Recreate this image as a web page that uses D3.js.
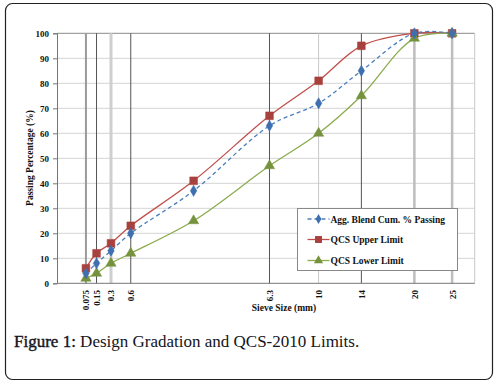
<!DOCTYPE html>
<html>
<head>
<meta charset="utf-8">
<script src="https://cdn.jsdelivr.net/npm/d3@7"></script>
<style>
body { margin: 0; background: #fff; }
text { font-family: "Liberation Serif", "Times New Roman", serif; }
</style>
</head>
<body>
<script>
window.onload = function(){

let width = 497,
	height = 383;

// sieve sizes (mm) and passing percentages
let sieves = [0.075, 0.15, 0.3, 0.6, 2.36, 6.3, 10, 14, 20, 25];
let blend = [4, 8, 13, 20, 37, 63, 72, 85, 100, 100];
let upper = [6, 12, 16, 23, 41, 67, 81, 95, 100, 100];
let lower = [2, 4, 8, 12, 25, 47, 60, 75, 98, 100];

let xTickLabels = ["0.075", "0.15", "0.3", "0.6", "6.3", "10", "14", "20", "25"];
let yTicks = [0, 10, 20, 30, 40, 50, 60, 70, 80, 90, 100];

let svg = d3.select("body").append("svg").attr("width", width).attr("height", height);

// outer frame
svg.append("rect")
	.attr("x", 5.5).attr("y", 3.5)
	.attr("width", 487).attr("height", 376)
	.attr("rx", 7)
	.attr("fill", "none")
	.attr("stroke", "#222")
	.attr("stroke-width", 1.2);

let x = d3.scalePow().exponent(0.45)
	.domain([0, Math.pow(4.5, 1 / 0.45)])
	.range([57, 474.7]);

let y = d3.scaleLinear()
	.domain([0, 100])
	.range([283.3, 33.3]);

let g = svg.append("g");

// horizontal grid
g.selectAll(".hgrid").data(yTicks.slice(1)).enter().append("line")
	.attr("x1", 57).attr("x2", 474.7)
	.attr("y1", d => y(d)).attr("y2", d => y(d))
	.attr("stroke", d => d == 100 ? "#8a8a8a" : "#d4d4d4")
	.attr("stroke-width", 1);

// vertical lines at sieve sizes
let vStyle = {
	"0.075": ["#9a9a9a", 2], "0.15": ["#555", 1], "0.3": ["#cfcfcf", 3], "0.6": ["#555", 1],
	"6.3": ["#555", 1], "10": ["#c8c8c8", 1], "14": ["#555", 1], "20": ["#bdbdbd", 2.5], "25": ["#bdbdbd", 2.5]
};
g.selectAll(".vgrid").data(xTickLabels).enter().append("line")
	.attr("x1", d => x(+d)).attr("x2", d => x(+d))
	.attr("y1", y(0)).attr("y2", y(100))
	.attr("stroke", d => vStyle[d][0])
	.attr("stroke-width", d => vStyle[d][1]);

// right edge of plot
g.append("line")
	.attr("x1", 474.7).attr("x2", 474.7).attr("y1", y(0)).attr("y2", y(100))
	.attr("stroke", "#c8c8c8");

// y axis
let yAxis = d3.axisLeft(y).tickValues(yTicks).tickSize(4).tickPadding(4);
let ya = svg.append("g").attr("transform", "translate(57,0)").call(yAxis);
ya.select(".domain").attr("stroke", "#777");
ya.selectAll(".tick line").attr("stroke", "#777");
ya.selectAll("text").attr("font-size", 9).attr("font-weight", "bold").attr("fill", "#111")
	.style("font-family", "'Liberation Serif', serif");

// x axis line
svg.append("line")
	.attr("x1", 57).attr("x2", 474.7).attr("y1", y(0)).attr("y2", y(0))
	.attr("stroke", "#777");

// x tick labels (rotated)
svg.selectAll(".xlab").data(xTickLabels).enter().append("text")
	.attr("transform", d => "translate(" + (x(+d) + 3.5) + ",290) rotate(-90)")
	.attr("text-anchor", "end")
	.attr("font-size", 9)
	.attr("font-weight", "bold")
	.attr("fill", "#111")
	.text(d => d);

// axis titles
svg.append("text")
	.attr("transform", "translate(33,158) rotate(-90)")
	.attr("text-anchor", "middle")
	.attr("font-size", 9.5)
	.attr("font-weight", "bold")
	.attr("fill", "#111")
	.text("Passing Percentage (%)");

svg.append("text")
	.attr("x", 284).attr("y", 311)
	.attr("text-anchor", "middle")
	.attr("font-size", 9.5)
	.attr("font-weight", "bold")
	.attr("fill", "#111")
	.text("Sieve Size (mm)");

// series
let series = [
	{name: "Agg. Blend Cum. % Passing", values: blend, line: "#4a7ebb", fill: "#3f6fae", dash: "4,3", shape: d3.symbolDiamond, size: 36},
	{name: "QCS Upper Limit", values: upper, line: "#c0504d", fill: "#a8403d", dash: null, shape: d3.symbolSquare, size: 60},
	{name: "QCS Lower Limit", values: lower, line: "#8cab4e", fill: "#76923c", dash: null, shape: d3.symbolTriangle, size: 46}
];

let line = d3.line()
	.x(d => x(d[0]))
	.y(d => y(d[1]))
	.curve(d3.curveCatmullRom.alpha(0.5));

// draw limits first, blend on top of lines
let order = [1, 2, 0];
order.forEach(function(i){
	let s = series[i];
	let pts = sieves.map((v, j) => [v, s.values[j]]);
	g.append("path")
		.datum(pts)
		.attr("d", line)
		.attr("fill", "none")
		.attr("stroke", s.line)
		.attr("stroke-width", 1.3)
		.attr("stroke-dasharray", s.dash);
});
order.forEach(function(i){
	let s = series[i];
	let pts = sieves.map((v, j) => [v, s.values[j]]);
	g.selectAll(".m" + i).data(pts).enter().append("path")
		.attr("transform", d => "translate(" + x(d[0]) + "," + y(d[1]) + ")")
		.attr("d", d3.symbol().type(s.shape).size(s.size))
		.attr("fill", s.fill)
		.attr("stroke", s.fill)
		.attr("stroke-width", 0.5);
});

// legend
let lg = svg.append("g").attr("transform", "translate(297.5,208.5)");
lg.append("rect")
	.attr("width", 160).attr("height", 62)
	.attr("fill", "#fff")
	.attr("stroke", "#888");

let rows = [10.5, 31, 52];
series.forEach(function(s, i){
	let r = lg.append("g").attr("transform", "translate(0," + rows[i] + ")");
	r.append("line")
		.attr("x1", 10).attr("x2", 32)
		.attr("stroke", s.line)
		.attr("stroke-width", 1.3)
		.attr("stroke-dasharray", s.dash ? "4,3" : null);
	r.append("path")
		.attr("transform", "translate(21,0)")
		.attr("d", d3.symbol().type(s.shape).size(s.size * 0.8))
		.attr("fill", s.fill);
	r.append("text")
		.attr("x", 33).attr("y", 3.5)
		.attr("font-size", 9.5)
		.attr("font-weight", "bold")
		.attr("fill", "#111")
		.text(s.name);
});

// caption
let cap = svg.append("text")
	.attr("x", 14).attr("y", 347)
	.attr("font-size", 17)
	.attr("fill", "#141420");
cap.append("tspan").attr("stroke", "#141420").attr("stroke-width", 0.4).text("Figure 1:");
cap.append("tspan").text(" Design Gradation and QCS-2010 Limits.");

};
</script>
</body>
</html>
